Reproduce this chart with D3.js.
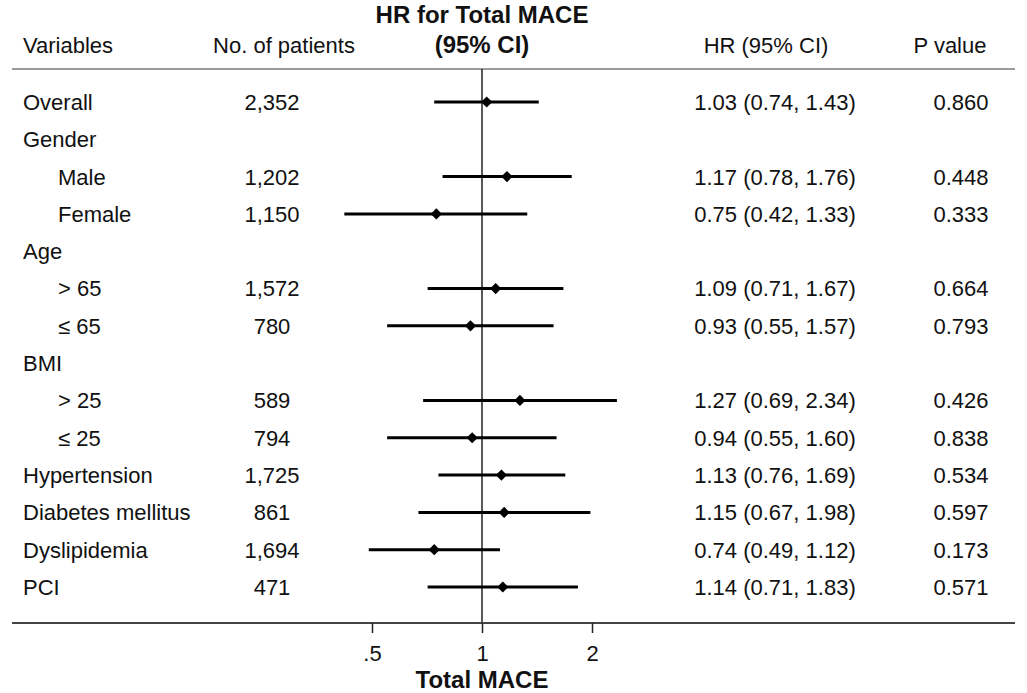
<!DOCTYPE html>
<html>
<head>
<meta charset="utf-8">
<script src="https://cdn.jsdelivr.net/npm/d3@7"></script>
<style>
  body { margin: 0; background: #fff; }
  svg text { font-family: "Liberation Sans", Arial, Helvetica, sans-serif; fill: #111; }
</style>
</head>
<body>
<svg id="chart"></svg>
<script>
// rows of the table, top to bottom
const labels = ['Overall', 'Gender', 'Male', 'Female', 'Age', '> 65', '\u2264 65', 'BMI', '> 25', '\u2264 25',
  'Hypertension', 'Diabetes mellitus', 'Dyslipidemia', 'PCI']
const indented = [false, false, true, true, false, true, true, false, true, true, false, false, false, false]
const patients = ['2,352', '', '1,202', '1,150', '', '1,572', '780', '', '589', '794', '1,725', '861', '1,694', '471']
const hr = [1.03, null, 1.17, 0.75, null, 1.09, 0.93, null, 1.27, 0.94, 1.13, 1.15, 0.74, 1.14]
const lo = [0.74, null, 0.78, 0.42, null, 0.71, 0.55, null, 0.69, 0.55, 0.76, 0.67, 0.49, 0.71]
const hi = [1.43, null, 1.76, 1.33, null, 1.67, 1.57, null, 2.34, 1.60, 1.69, 1.98, 1.12, 1.83]
const pvals = ['0.860', '', '0.448', '0.333', '', '0.664', '0.793', '', '0.426', '0.838', '0.534', '0.597', '0.173', '0.571']
const tickVals = [0.5, 1, 2]
const tickLabels = ['.5', '1', '2']

const W = 1027, H = 693
const fs = 22, fsBold = 24

const svg = d3.select('#chart').attr('width', W).attr('height', H)

const x = d3.scaleLog().domain([0.5, 2]).range([372, 592])
const y = d3.scalePoint().domain(d3.range(labels.length)).range([102, 587])

const lineTop = 69, axisY = 623
const cols = {label: 23, indent: 58, n: 272, ci: 775, p: 961}

// header
svg.append('text').attr('x', x(1)).attr('y', 23).attr('text-anchor', 'middle')
  .attr('font-size', fsBold).attr('font-weight', 'bold').text('HR for Total MACE')
svg.append('text').attr('x', x(1)).attr('y', 53).attr('text-anchor', 'middle')
  .attr('font-size', fsBold).attr('font-weight', 'bold').text('(95% CI)')

const heads = [
  {t: 'Variables', x: cols.label, a: 'start'},
  {t: 'No. of patients', x: 284, a: 'middle'},
  {t: 'HR (95% CI)', x: 766, a: 'middle'},
  {t: 'P value', x: 950, a: 'middle'}
]
svg.selectAll('.head').data(heads).join('text')
  .attr('class', 'head')
  .attr('x', d => d.x).attr('y', 53)
  .attr('text-anchor', d => d.a)
  .attr('font-size', fs)
  .text(d => d.t)

svg.append('line').attr('x1', 12).attr('x2', 1015).attr('y1', lineTop).attr('y2', lineTop)
  .attr('stroke', '#9a9a9a').attr('stroke-width', 2)

// reference line at HR = 1
svg.append('line').attr('x1', x(1)).attr('x2', x(1)).attr('y1', lineTop).attr('y2', axisY)
  .attr('stroke', '#222').attr('stroke-width', 1.5)

// table text
const rows = svg.selectAll('.row').data(labels.map((d, i) => i)).join('g')
  .attr('class', 'row')
  .attr('transform', i => `translate(0,${y(i)})`)

rows.append('text')
  .attr('x', i => indented[i] ? cols.indent : cols.label)
  .attr('dy', '0.36em').attr('font-size', fs)
  .text(i => labels[i])

rows.append('text')
  .attr('x', cols.n).attr('text-anchor', 'middle')
  .attr('dy', '0.36em').attr('font-size', fs)
  .text(i => patients[i])

rows.append('text')
  .attr('x', cols.ci).attr('text-anchor', 'middle')
  .attr('dy', '0.36em').attr('font-size', fs)
  .text(i => hr[i] == null ? '' : `${hr[i].toFixed(2)} (${lo[i].toFixed(2)}, ${hi[i].toFixed(2)})`)

rows.append('text')
  .attr('x', cols.p).attr('text-anchor', 'middle')
  .attr('dy', '0.36em').attr('font-size', fs)
  .text(i => pvals[i])

// CI lines and point estimates
const est = labels.map((d, i) => i).filter(i => hr[i] != null)

svg.selectAll('.ci').data(est).join('line')
  .attr('class', 'ci')
  .attr('x1', i => x(lo[i])).attr('x2', i => x(hi[i]))
  .attr('y1', i => y(i)).attr('y2', i => y(i))
  .attr('stroke', '#000').attr('stroke-width', 3)

svg.selectAll('.pt').data(est).join('path')
  .attr('class', 'pt')
  .attr('d', d3.symbol(d3.symbolDiamond2, 80)())
  .attr('transform', i => `translate(${x(hr[i])},${y(i)})`)
  .attr('fill', '#000')

// bottom axis
svg.append('line').attr('x1', 12).attr('x2', 1015).attr('y1', axisY).attr('y2', axisY)
  .attr('stroke', '#444').attr('stroke-width', 2)

const axis = d3.axisBottom(x).tickValues(tickVals)
  .tickFormat((d, i) => tickLabels[i]).tickSize(10).tickPadding(12)

const axisG = svg.append('g').attr('transform', `translate(0,${axisY})`).call(axis)
axisG.select('.domain').remove()
axisG.selectAll('.tick line').attr('stroke', '#222').attr('stroke-width', 1.5)
axisG.selectAll('.tick text').attr('font-size', fs)
  .attr('font-family', '"Liberation Sans", Arial, sans-serif').attr('fill', '#111')

svg.append('text').attr('x', x(1)).attr('y', 688).attr('text-anchor', 'middle')
  .attr('font-size', fsBold).attr('font-weight', 'bold').text('Total MACE')
</script>
</body>
</html>
